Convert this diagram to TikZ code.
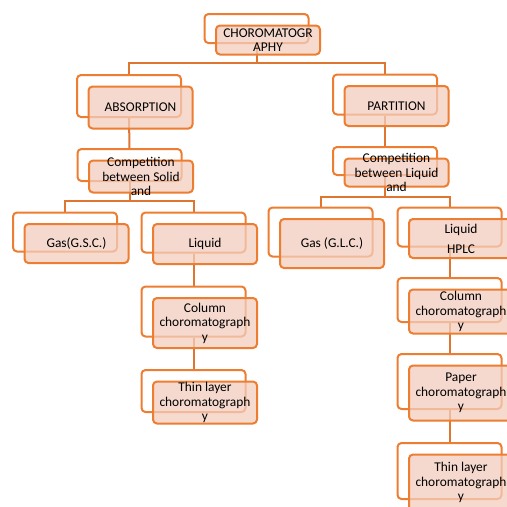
\documentclass[tikz,border=0pt]{standalone}
\usepackage{fontspec}
\setmainfont{Carlito}
\usetikzlibrary{positioning, backgrounds}
\definecolor{boxline}{RGB}{237,125,49}
\definecolor{boxfill}{RGB}{243,205,190}
\definecolor{linkline}{RGB}{222,118,50}
\tikzset{every picture/.style={line width=2pt}}

\begin{document}
\begin{tikzpicture}[x=1pt,y=-1pt,
		back/.style={draw=boxline, fill=white, rounded corners=4pt, minimum width=104pt, inner sep=0pt},
		front/.style={draw=boxline, fill=boxfill, fill opacity=0.75, rounded corners=4pt, minimum width=104pt, inner sep=0pt},
		boxtext/.style={font=\fontsize{13.4}{14.5}\selectfont, align=center, inner sep=0pt},
		link/.style={draw=linkline, line width=2pt}]
		  \useasboundingbox (0,0) rectangle (507,507);
		  \clip (0,0) rectangle (507,507);

		  \node[back, minimum height=29]   (chrom)   at (256.5,28.5) {};
		  \node[front, minimum height=29]  (chrom-f) at ([shift={(11.5,11.5)}]chrom.center) {};
		  \node[boxtext]                   (chrom-t) at (chrom-f) {CHOROMATOGR\\APHY};

		  \node[back, minimum height=42]   (absorb)   at (129,96) {};
		  \node[front, minimum height=42]  (absorb-f) at ([shift={(11.5,11.5)}]absorb.center) {};
		  \node[boxtext]                   (absorb-t) at (absorb-f) {ABSORPTION};

		  \node[back, minimum height=40]   (part)   at (385,94.5) {};
		  \node[front, minimum height=40]  (part-f) at ([shift={(11.5,11.5)}]part.center) {};
		  \node[boxtext]                   (part-t) at (part-f) {PARTITION};

		  \node[back, minimum height=32]   (compS)   at (129.5,165) {};
		  \node[front, minimum height=32]  (compS-f) at ([shift={(11.5,11.5)}]compS.center) {};
		  \node[boxtext]                   (compS-t) at (compS-f) {Competition\\between Solid\\and};

		  \node[back, minimum height=28]   (compL)   at (385,161) {};
		  \node[front, minimum height=28]  (compL-f) at ([shift={(11.5,11.5)}]compL.center) {};
		  \node[boxtext]                   (compL-t) at (compL-f) {Competition\\between Liquid\\and};

		  \node[back, minimum height=39]   (gasS)   at (65,232) {};
		  \node[front, minimum height=39]  (gasS-f) at ([shift={(11.5,11.5)}]gasS.center) {};
		  \node[boxtext]                   (gasS-t) at (gasS-f) {Gas(G.S.C.)};

		  \node[back, minimum height=40]   (liqS)   at (193.5,232.5) {};
		  \node[front, minimum height=40]  (liqS-f) at ([shift={(11.5,11.5)}]liqS.center) {};
		  \node[boxtext]                   (liqS-t) at (liqS-f) {Liquid};

		  \node[back, minimum height=49]   (gasL)   at (320.5,232) {};
		  \node[front, minimum height=49]  (gasL-f) at ([shift={(11.5,11.5)}]gasL.center) {};
		  \node[boxtext]                   (gasL-t) at (gasL-f) {Gas (G.L.C.)};

		  \node[back, minimum height=39]   (liqL)   at (449.5,227) {};
		  \node[front, minimum height=39]  (liqL-f) at ([shift={(11.5,11.5)}]liqL.center) {};
		  \node[boxtext]                   (liqL-t) at (liqL-f) {Liquid\\[5.5pt]HPLC};

		  \node[back, minimum height=50]   (colS)   at (193.5,311.5) {};
		  \node[front, minimum height=50]  (colS-f) at ([shift={(11.5,11.5)}]colS.center) {};
		  \node[boxtext]                   (colS-t) at (colS-f) {Column\\choromatograph\\y};

		  \node[back, minimum height=42]   (thinS)   at (193.5,391) {};
		  \node[front, minimum height=42]  (thinS-f) at ([shift={(11.5,11.5)}]thinS.center) {};
		  \node[boxtext]                   (thinS-t) at (thinS-f) {Thin layer\\choromatograph\\y};

		  \node[back, minimum height=44]   (colL)   at (449.5,300) {};
		  \node[front, minimum height=44]  (colL-f) at ([shift={(11.5,11.5)}]colL.center) {};
		  \node[boxtext]                   (colL-t) at (colL-f) {Column\\choromatograph\\y};

		  \node[back, minimum height=55]   (paper)   at (449.5,381.5) {};
		  \node[front, minimum height=55]  (paper-f) at ([shift={(11.5,11.5)}]paper.center) {};
		  \node[boxtext]                   (paper-t) at (paper-f) {Paper\\choromatograph\\y};

		  \node[back, minimum height=56]   (thinL)   at (449.5,471) {};
		  \node[front, minimum height=56]  (thinL-f) at ([shift={(11.5,11.5)}]thinL.center) {};
		  \node[boxtext]                   (thinL-t) at (thinL-f) {Thin layer\\choromatograph\\y};

		  \begin{scope}[on background layer]
		  \coordinate (bus1) at (chrom.south |- 0,63);
		  \coordinate (bus2) at (compS.south |- 0,201);
		  \coordinate (bus3) at (compL.south |- 0,197);
		  \draw[link] (chrom.south) -- (bus1);
		  \draw[link] (absorb.north) |- (bus1) -| (part.north);
		  \draw[link] (absorb.south) -- (compS.north);
		  \draw[link] (part.south) -- (compL.north);
		  \draw[link] (compS.south) -- (bus2);
		  \draw[link] (gasS.north) |- (bus2) -| (liqS.north);
		  \draw[link] (compL.south) -- (bus3);
		  \draw[link] (gasL.north) |- (bus3) -| (liqL.north);
		  \draw[link] (liqS.south) -- (colS.north);
		  \draw[link] (colS.south) -- (thinS.north);
		  \draw[link] (liqL.south) -- (colL.north);
		  \draw[link] (colL.south) -- (paper.north);
		  \draw[link] (paper.south) -- (thinL.north);
		  \end{scope}
		\end{tikzpicture}
\end{document}
